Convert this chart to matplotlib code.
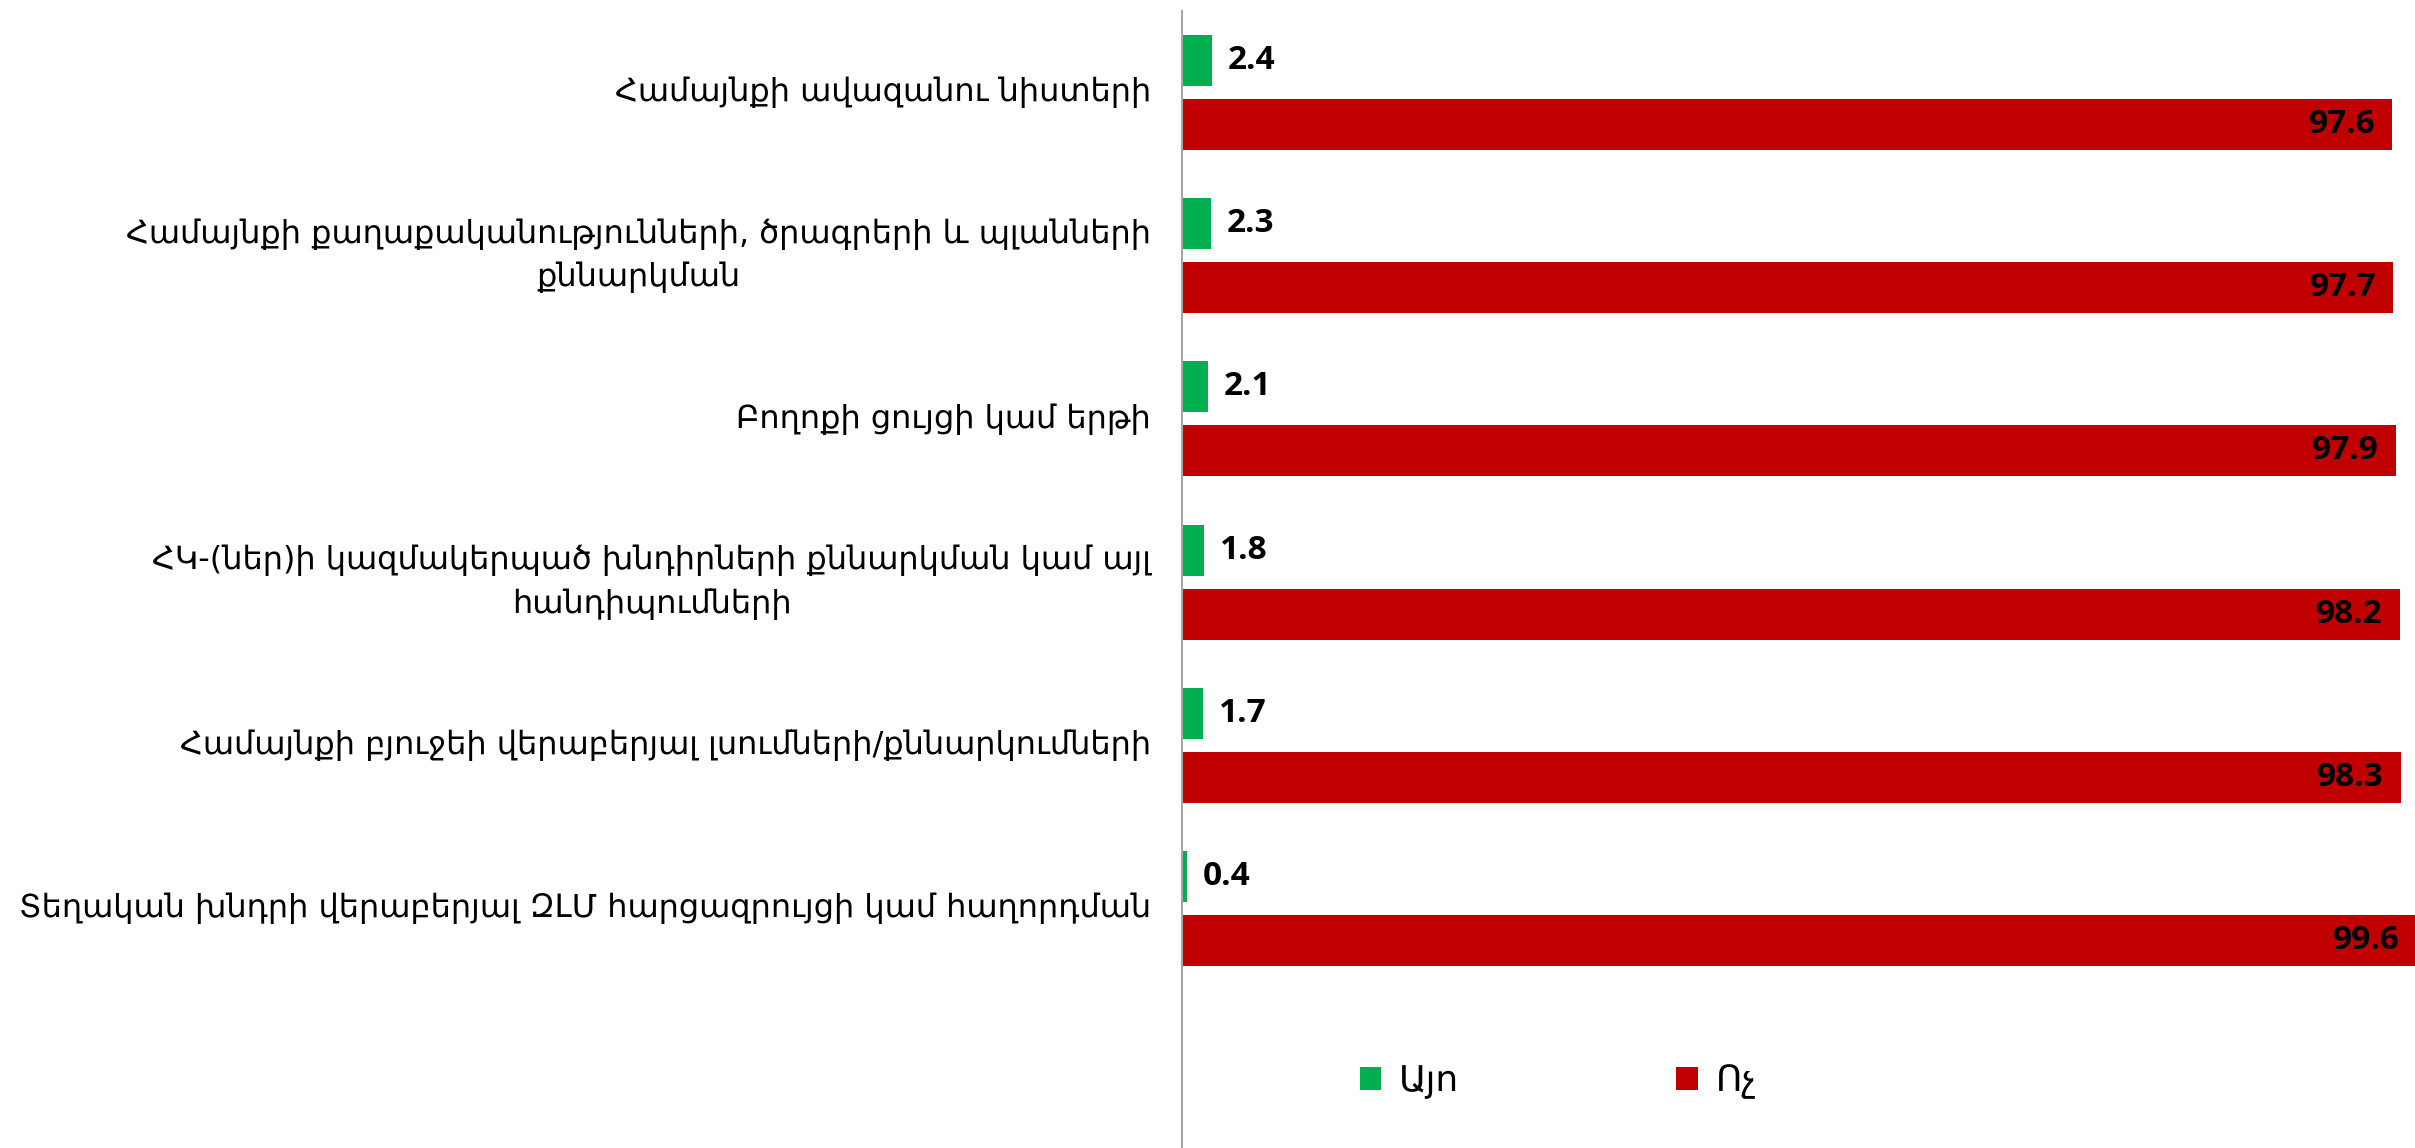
import numpy as np
import matplotlib.pyplot as plt
from matplotlib.patches import Patch

# Data
categories = [
    'Համայնքի ավազանու նիստերի',
    'Համայնքի քաղաքականությունների, ծրագրերի և պլանների\nքննարկման',
    'Բողոքի ցույցի կամ երթի',
    'ՀԿ-(ներ)ի կազմակերպած խնդիրների քննարկման կամ այլ\nհանդիպումների',
    'Համայնքի բյուջեի վերաբերյալ լսումների/քննարկումների',
    'Տեղական խնդրի վերաբերյալ ԶԼՄ հարցազրույցի կամ հաղորդման',
]
yes_vals = [2.4, 2.3, 2.1, 1.8, 1.7, 0.4]
no_vals = [97.6, 97.7, 97.9, 98.2, 98.3, 99.6]
series_names = ['Այո', 'Ոչ']

green = '#00B050'
red = '#C00000'
label_font = ['DejaVu Serif Condensed', 'DejaVu Sans Condensed', 'DejaVu Sans']

W, H = 2415, 1148
fig = plt.figure(figsize=(W / 100, H / 100), dpi=100)

# axes placed in pixel terms: left spine at x=1182, 12.4 px per unit
left = 1182 / W
width = 1240 / W
top_px, bot_px = 11, 1148
ax = fig.add_axes([left, 1 - bot_px / H, width, (bot_px - top_px) / H])

y = np.arange(len(categories))
pitch = 163.2
bh = 51 / pitch
off = 32 / pitch

ax.barh(y - off, yes_vals, height=bh, color=green, label=series_names[0])
ax.barh(y + off, no_vals, height=bh, color=red, label=series_names[1])

ax.set_xlim(0, 100)
ax.set_ylim((bot_px - 92.5) / pitch, -(92.5 - top_px) / pitch)

# value labels
for i, v in enumerate(yes_vals):
    ax.annotate(f'{v}', (v, y[i] - off), xytext=(16, 0), textcoords='offset pixels',
                ha='left', va='center', fontsize=24, fontweight='bold',
                family=['Open Sans', 'DejaVu Sans'], color='black')
for i, v in enumerate(no_vals):
    ax.annotate(f'{v}', (v, y[i] + off), xytext=(-17, 0), textcoords='offset pixels',
                ha='right', va='center', fontsize=24, fontweight='bold',
                family=['Open Sans', 'DejaVu Sans'], color='black', clip_on=False)

# category labels
for i, lab in enumerate(categories):
    ax.annotate(lab, (0, y[i]), xytext=(-31, 0), textcoords='offset pixels',
                ha='right', va='center', multialignment='center',
                fontsize=23, linespacing=1.5,
                family=label_font, color='black',
                annotation_clip=False)

ax.set_yticks([])
ax.set_xticks([])
for s in ['top', 'right', 'bottom']:
    ax.spines[s].set_visible(False)
ax.spines['left'].set_color('#A6A6A6')
ax.spines['left'].set_linewidth(1.5)

handles = [Patch(facecolor=green, edgecolor='none', label=series_names[0]),
           Patch(facecolor=red, edgecolor='none', label=series_names[1])]
fig.legend(handles=handles, loc='center left', bbox_to_anchor=(1327 / W, 1 - 1082 / H),
           ncol=2, frameon=False, handlelength=0.6, handleheight=0.6,
           handletextpad=0.5, columnspacing=6.0,
           prop={'family': label_font, 'size': 26})

fig.savefig('out.png', dpi=100)
